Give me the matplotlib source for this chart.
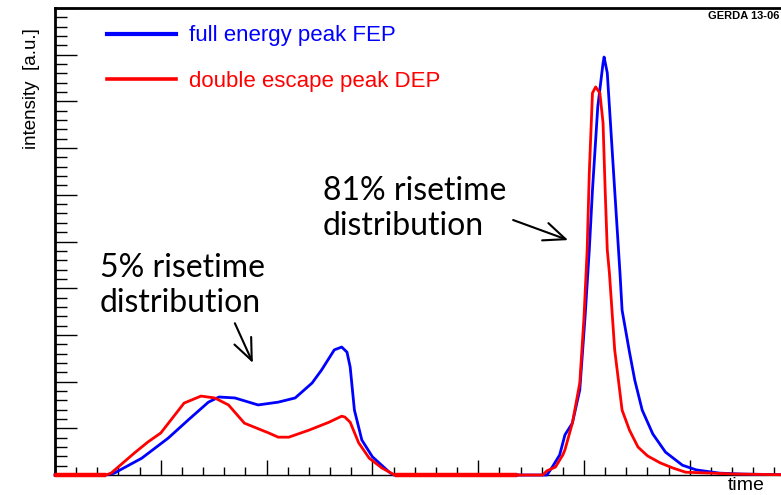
import numpy as np
import matplotlib
matplotlib.use("Agg")
import matplotlib.pyplot as plt
from matplotlib.ticker import MultipleLocator
from matplotlib.lines import Line2D

# ---- data (arbitrary units: one major x tick = 1 time unit, one major y tick = 1 a.u.) ----
t_fep5 = [0, 0.48, 0.56, 0.82, 1.07, 1.26, 1.45, 1.55, 1.70, 1.92, 2.11, 2.27, 2.43, 2.52,
          2.64, 2.71, 2.76, 2.79, 2.83, 2.90, 3.00, 3.16, 3.20, 4.37]
fep5 = [0, 0, 0.04, 0.36, 0.79, 1.18, 1.56, 1.67, 1.65, 1.50, 1.56, 1.65, 1.97, 2.25,
        2.68, 2.74, 2.63, 2.31, 1.39, 0.75, 0.39, 0.06, 0, 0]

t_dep5 = [0, 0.48, 0.53, 0.75, 0.88, 1.00, 1.22, 1.38, 1.51, 1.64, 1.79, 2.02, 2.11, 2.21,
          2.40, 2.59, 2.71, 2.74, 2.79, 2.87, 2.97, 3.09, 3.21, 4.37]
dep5 = [0, 0, 0.04, 0.47, 0.71, 0.90, 1.54, 1.69, 1.65, 1.50, 1.11, 0.90, 0.81, 0.81,
        0.96, 1.13, 1.26, 1.24, 1.13, 0.69, 0.36, 0.15, 0, 0]

t_fep81 = [4.37, 4.61, 4.65, 4.70, 4.77, 4.82, 4.89, 4.96, 5.01, 5.05, 5.08, 5.13, 5.18, 5.19,
           5.22, 5.25, 5.29, 5.34, 5.36, 5.43, 5.48, 5.55, 5.65, 5.77, 5.93, 6.06, 6.28, 6.50, 7.07]
fep81 = [0, 0, 0, 0.17, 0.43, 0.86, 1.11, 1.82, 3.38, 4.82, 6.10, 7.88, 8.82, 8.95,
         8.61, 7.54, 6.10, 4.33, 3.53, 2.63, 2.03, 1.39, 0.88, 0.49, 0.21, 0.11, 0.04, 0.02, 0]

t_dep81 = [4.37, 4.61, 4.65, 4.73, 4.80, 4.82, 4.89, 4.96, 5.00, 5.03, 5.05, 5.08, 5.11, 5.15,
           5.18, 5.20, 5.22, 5.24, 5.29, 5.34, 5.36, 5.43, 5.51, 5.60, 5.72, 5.84, 5.96, 6.44, 7.07]
dep81 = [0, 0, 0.09, 0.17, 0.43, 0.54, 1.11, 1.97, 3.38, 4.82, 6.47, 8.18, 8.31, 8.18,
         7.54, 6.10, 4.82, 4.33, 2.68, 1.76, 1.39, 0.96, 0.60, 0.41, 0.26, 0.15, 0.06, 0.02, 0]

labels = ["full energy peak FEP", "double escape peak DEP"]
BLUE = "#0000ff"
RED = "#ff0000"

fig = plt.figure(figsize=(7.81, 4.95), dpi=100)
ax = fig.add_axes([55 / 781, 20 / 495, 740.6 / 781, 467 / 495])
ax.set_xlim(0, 7)
ax.set_ylim(0, 10)

lw = 2.0
ax.plot(t_fep5, fep5, color=BLUE, lw=lw, clip_on=False, zorder=3)
ax.plot(t_fep81, fep81, color=BLUE, lw=lw, clip_on=False, zorder=3)
ax.plot(t_dep5, dep5, color=RED, lw=lw, clip_on=False, zorder=4)
d5 = np.array(dep5, dtype=float)
ax.plot(t_dep5, np.where(d5 == 0, 0.0, np.nan), color=RED, lw=3.2, clip_on=False, zorder=4,
        solid_capstyle="butt")
ax.plot(t_dep81, dep81, color=RED, lw=lw, clip_on=False, zorder=4)

# spines & ticks
ax.spines["right"].set_visible(False)
ax.spines["top"].set_linewidth(2.0)
ax.spines["left"].set_linewidth(2.0)
ax.spines["bottom"].set_linewidth(1.0)
ax.xaxis.set_major_locator(MultipleLocator(1))
ax.xaxis.set_minor_locator(MultipleLocator(0.2))
ax.yaxis.set_major_locator(MultipleLocator(1))
ax.yaxis.set_minor_locator(MultipleLocator(0.2))
ax.tick_params(axis="x", which="major", direction="in", length=10.8, width=1.0,
               top=False, labelbottom=False)
ax.tick_params(axis="x", which="minor", direction="in", length=5.8, width=1.0, top=False)
ax.tick_params(axis="y", which="major", direction="in", length=15.8, width=1.0,
               right=False, labelleft=False)
ax.tick_params(axis="y", which="minor", direction="in", length=8.4, width=1.0, right=False)

# legend
handles = [Line2D([], [], color=BLUE, lw=3.0), Line2D([], [], color=RED, lw=2.6)]
leg = ax.legend(handles, labels, loc="upper left", bbox_to_anchor=(0.0702, 0.963),
                frameon=False, borderpad=0, borderaxespad=0, handlelength=3.1,
                handletextpad=0.6, labelspacing=1.12,
                prop={"family": "Liberation Sans", "size": 16})
for txt, c in zip(leg.get_texts(), [BLUE, RED]):
    txt.set_color(c)

# annotations (anchored at baseline of the last line)
afont = {"family": "Lato", "size": 23}
ax.text(0.425, 3.49, "5% risetime\ndistribution", ha="left", va="baseline",
        linespacing=1.2, fontdict=afont)
ax.text(2.53, 5.14, "81% risetime\ndistribution", ha="left", va="baseline",
        linespacing=1.2, fontdict=afont)
aprops = dict(arrowstyle="->,head_length=1.3,head_width=0.55", lw=1.5, color="black",
              shrinkA=0, shrinkB=0, mutation_scale=12)
ax.annotate("", xy=(4.85, 5.03), xytext=(4.33, 5.46), arrowprops=aprops)
ax.annotate("", xy=(1.87, 2.40), xytext=(1.70, 3.25), arrowprops=aprops)

# axis labels & tag
fig.text(32 / 781, 1 - 89 / 495, "intensity  [a.u.]", rotation=90, ha="center", va="center",
         family="Liberation Sans", fontsize=13.5)
fig.text(765 / 781, 0.5 / 495, "time", ha="right", va="bottom",
         family="Liberation Sans", fontsize=14)
fig.text(779 / 781, 1 - 16 / 495, "GERDA 13-06", ha="right", va="center",
         family="Liberation Sans", fontweight="bold", fontsize=8)

fig.savefig("out.png", dpi=100)
